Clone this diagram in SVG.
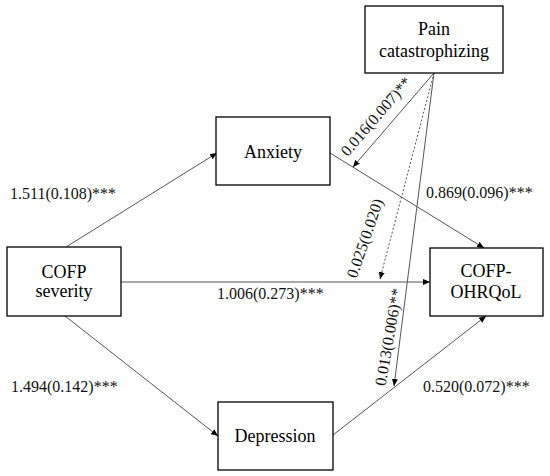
<svg xmlns="http://www.w3.org/2000/svg" width="550" height="476" viewBox="0 0 550 476">
<style>
.box{fill:#fff;stroke:#000;stroke-width:1.3}
.nt{font-family:"Liberation Serif","Times New Roman",serif;font-size:18px;fill:#000;text-anchor:middle}
.lb{font-family:"Liberation Serif","Times New Roman",serif;font-size:16px;fill:#111}
.c{stroke:#555;stroke-width:1;fill:none;marker-end:url(#ah)}
.d{stroke-dasharray:2,2}
</style>
<defs>
<marker id="ah" markerUnits="userSpaceOnUse" markerWidth="8" markerHeight="6" refX="7" refY="3" orient="auto">
<path d="M0,0 L7,3 L0,6 Z" fill="#000"/>
</marker>
</defs>
<rect width="550" height="476" fill="#fff"/>
<g id="connectors">
<line class="c" x1="66" y1="247" x2="217" y2="153"/>
<line class="c" x1="65" y1="316" x2="218" y2="436"/>
<line class="c" x1="121" y1="282" x2="430" y2="282"/>
<line class="c" x1="330" y1="153" x2="484" y2="248"/>
<line class="c" x1="333" y1="435" x2="486" y2="316"/>
<line class="c" x1="434" y1="73" x2="353" y2="167"/>
<line class="c d" x1="434" y1="73" x2="380" y2="279"/>
<line class="c" x1="434" y1="73" x2="394" y2="386"/>
</g>
<g id="labels">
<text class="lb" x="10" y="199">1.511(0.108)***</text>
<text class="lb" x="217" y="299">1.006(0.273)***</text>
<text class="lb" x="11" y="392">1.494(0.142)***</text>
<text class="lb" x="426" y="198">0.869(0.096)***</text>
<text class="lb" x="423" y="392">0.520(0.072)***</text>
<text class="lb" text-anchor="middle" transform="translate(380,120) rotate(-49)">0.016(0.007)**</text>
<text class="lb" text-anchor="middle" transform="translate(370,240) rotate(-71)">0.025(0.020)</text>
<text class="lb" text-anchor="middle" transform="translate(394,338) rotate(-80)">0.013(0.006)**</text>
</g>
<g id="pain">
<rect class="box" x="365" y="6" width="138" height="67"/>
<text class="nt" x="434" y="35">Pain</text>
<text class="nt" x="434" y="57">catastrophizing</text>
</g>
<g id="anxiety">
<rect class="box" x="216" y="117" width="114" height="68"/>
<text class="nt" x="273" y="158">Anxiety</text>
</g>
<g id="cofp-severity">
<rect class="box" x="7" y="247" width="114" height="69"/>
<text class="nt" x="64" y="278">COFP</text>
<text class="nt" x="64" y="297">severity</text>
</g>
<g id="cofp-ohrqol">
<rect class="box" x="430" y="248" width="113" height="68"/>
<text class="nt" x="486" y="277">COFP-</text>
<text class="nt" x="486" y="298">OHRQoL</text>
</g>
<g id="depression">
<rect class="box" x="218" y="402" width="115" height="68"/>
<text class="nt" x="275" y="442">Depression</text>
</g>
</svg>
